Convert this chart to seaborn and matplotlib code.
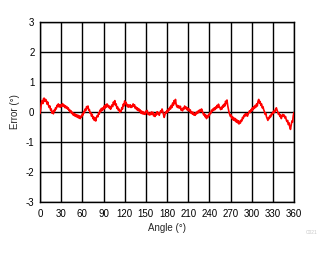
import numpy as np
import pandas as pd
import matplotlib
matplotlib.use("Agg")
import matplotlib.pyplot as plt
import seaborn as sns

error = [
    -0.05, 0.10, 0.30, 0.38, 0.28, 0.45, 0.46, 0.35, 0.42, 0.38,
    0.26, 0.33, 0.22, 0.15, 0.20, 0.06, 0.10, -0.04, 0.02, -0.06,
    0.06, 0.03, 0.14, 0.10, 0.22, 0.18, 0.27, 0.17, 0.24, 0.16,
    0.24, 0.19, 0.28, 0.20, 0.24, 0.15, 0.21, 0.13, 0.18, 0.10,
    0.14, 0.05, 0.08, -0.01, 0.04, -0.05, -0.01, -0.10, -0.05, -0.13,
    -0.07, -0.15, -0.09, -0.18, -0.11, -0.20, -0.13, -0.22, -0.14, -0.17,
    -0.07, -0.10, 0.02, -0.02, 0.10, 0.05, 0.18, 0.12, 0.20, 0.06,
    0.08, -0.04, -0.02, -0.14, -0.08, -0.22, -0.16, -0.28, -0.20, -0.30,
    -0.18, -0.12, -0.16, -0.03, -0.07, 0.06, 0.01, 0.12, 0.05, 0.14,
    0.08, 0.20, 0.12, 0.24, 0.16, 0.27, 0.18, 0.22, 0.14, 0.19,
    0.09, 0.15, 0.24, 0.18, 0.33, 0.26, 0.38, 0.22, 0.27, 0.12,
    0.17, 0.06, 0.10, -0.01, 0.05, 0.02, 0.15, 0.10, 0.26, 0.20,
    0.37, 0.28, 0.32, 0.20, 0.25, 0.16, 0.23, 0.17, 0.24, 0.15,
    0.21, 0.17, 0.27, 0.19, 0.24, 0.12, 0.17, 0.08, 0.14, 0.05,
    0.11, 0.02, 0.07, -0.04, 0.03, -0.06, 0.01, -0.07, -0.02, -0.08,
    0.03, -0.02, 0.05, -0.08, -0.03, -0.10, -0.04, -0.09, 0.00, -0.06,
    -0.01, -0.13, -0.07, -0.15, -0.05, -0.10, 0.01, -0.06, -0.02, -0.11,
    -0.03, 0.04, 0.00, 0.10, 0.02, -0.08, -0.18, -0.10, 0.00, -0.04,
    0.05, 0.00, 0.10, 0.06, 0.16, 0.10, 0.22, 0.15, 0.30, 0.22,
    0.38, 0.28, 0.42, 0.25, 0.17, 0.22, 0.14, 0.20, 0.13, 0.19,
    0.06, 0.10, 0.04, 0.14, 0.09, 0.20, 0.12, 0.17, 0.08, 0.14,
    0.05, 0.11, 0.02, 0.07, -0.04, 0.01, -0.07, -0.01, -0.10, -0.05,
    -0.11, -0.02, -0.06, 0.02, -0.03, 0.05, 0.00, 0.08, 0.02, 0.10,
    0.04, -0.04, -0.10, -0.06, -0.16, -0.10, -0.22, -0.14, -0.18, -0.08,
    -0.12, -0.02, -0.05, 0.06, 0.02, 0.10, 0.05, 0.14, 0.08, 0.17,
    0.12, 0.22, 0.15, 0.26, 0.18, 0.14, 0.08, 0.16, 0.10, 0.22,
    0.16, 0.26, 0.20, 0.36, 0.28, 0.40, 0.22, 0.10, -0.02, -0.08,
    -0.15, -0.10, -0.22, -0.16, -0.27, -0.20, -0.29, -0.22, -0.33, -0.26,
    -0.36, -0.29, -0.40, -0.31, -0.37, -0.27, -0.30, -0.18, -0.22, -0.11,
    -0.15, -0.06, -0.12, -0.05, -0.14, -0.08, -0.03, 0.04, -0.02, 0.08,
    0.03, 0.14, 0.08, 0.18, 0.12, 0.22, 0.16, 0.27, 0.20, 0.36,
    0.42, 0.30, 0.35, 0.22, 0.27, 0.14, 0.18, 0.08, 0.02, -0.08,
    -0.04, -0.16, -0.22, -0.28, -0.18, -0.22, -0.12, -0.16, -0.06, -0.09,
    0.00, -0.04, 0.05, 0.00, 0.10, 0.14, 0.06, 0.00, -0.08, -0.04,
    -0.15, -0.10, -0.22, -0.14, -0.08, -0.14, -0.10, -0.20, -0.15, -0.26,
    -0.32, -0.28, -0.42, -0.36, -0.50, -0.58, -0.44, -0.30, -0.34, -0.12,
    -0.02,
]
angle = list(range(len(error)))

x_ticks = [0, 30, 60, 90, 120, 150, 180, 210, 240, 270, 300, 330, 360]
y_ticks = [-3, -2, -1, 0, 1, 2, 3]

sns.set_style("white")
plt.rcParams["font.family"] = ["Liberation Sans", "DejaVu Sans"]

fig = plt.figure(figsize=(3.27, 2.54), dpi=100)
ax = fig.add_axes([40 / 327, 52 / 254, 254 / 327, 180 / 254])

df = pd.DataFrame({"Angle": angle, "Error": error})
sns.lineplot(data=df, x="Angle", y="Error", ax=ax, color="#ff0000",
             linewidth=1.2, zorder=3)

ax.set_xlim(0, 360)
ax.set_ylim(-3, 3)
ax.set_xticks(x_ticks)
ax.set_yticks(y_ticks)
ax.set_xticklabels([str(t) for t in x_ticks])
ax.set_yticklabels([str(t) for t in y_ticks])
ax.grid(True, color="black", linewidth=1.0)
ax.set_axisbelow(True)
for s in ax.spines.values():
    s.set_color("black")
    s.set_linewidth(1.0)
ax.tick_params(axis="both", length=0, labelsize=7, colors="black")
ax.tick_params(axis="x", pad=5)
ax.tick_params(axis="y", pad=4)
ax.set_xlabel("Angle (°)", fontsize=7, labelpad=3)
ax.set_ylabel("Error (°)", fontsize=7, labelpad=4)

fig.text(318 / 327, 1 - 232 / 254, "C021", fontsize=3.5, color="#c8c8c8",
         ha="right", va="center")

fig.savefig("out.png", dpi=100)
